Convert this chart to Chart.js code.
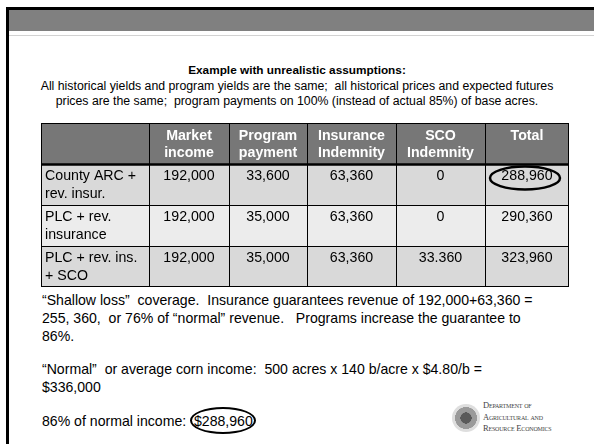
<!DOCTYPE html>
<html>
<head>
<meta charset="utf-8">
<title>Example with unrealistic assumptions</title>
<script src="https://cdn.jsdelivr.net/npm/chart.js@4.4.1/dist/chart.umd.min.js"></script>
<style>
    body { margin: 0; background: #fff; font-family: "Liberation Sans", Arial, sans-serif; color: #000; }
    #slide { position: relative; width: 594px; height: 444px; overflow: hidden; background: #fff; }
    .frameL { position: absolute; left: 6px; top: 7px; width: 3px; height: 437px; background: #000; }
    .frameT { position: absolute; left: 6px; top: 7px; width: 588px; height: 3px; background: #000; }
    .band { position: absolute; left: 9px; top: 10px; width: 585px; height: 21px; background: #808080; }
    .rule { position: absolute; left: 9px; top: 35px; width: 585px; height: 1px; background: #d2d2d2; }
    .intro { position: absolute; left: 0; top: 63px; width: 594px; text-align: center; font-size: 12.3px; line-height: 15.5px; }
    .intro div { white-space: pre; }
    .intro b { font-weight: bold; font-size: 11.8px; }
    #tabla { position: absolute; left: 41px; top: 123px; }
    .para { position: absolute; left: 42px; font-size: 14.1px; line-height: 18px; white-space: pre; }
    .circled { display: inline-block; border: 2px solid #000; border-radius: 50%; padding: 3px 1px 2px 2px; margin: -5px -3px -4px -4px; }
    .seal { position: absolute; left: 452px; top: 404px; width: 28px; height: 28px; border-radius: 50%;
            background: radial-gradient(circle, #5a5a5a 0 28%, #9a9a9a 29% 55%, #dedede 56% 100%); }
    .dept { position: absolute; left: 483px; top: 400px; font-family: "Liberation Serif", serif; font-size: 8.5px;
            line-height: 11.5px; font-variant: small-caps; color: #444; letter-spacing: -0.2px; }
</style>
</head>
<body>
<div id="slide">
    <div class="frameT"></div>
    <div class="frameL"></div>
    <div class="band"></div>
    <div class="rule"></div>

    <div class="intro">
        <div><b>Example with unrealistic assumptions:</b></div>
        <div>All historical yields and program yields are the same;  all historical prices and expected futures</div>
        <div>prices are the same;  program payments on 100% (instead of actual 85%) of base acres.</div>
    </div>

    <canvas id="tabla" width="528" height="164"></canvas>

    <div class="para" style="top:291px">“Shallow loss”  coverage.  Insurance guarantees revenue of 192,000+63,360 =
255, 360,  or 76% of “normal” revenue.   Programs increase the guarantee to
86%.</div>
    <div class="para" style="top:360px">“Normal”  or average corn income:  500 acres x 140 b/acre x $4.80/b =
$336,000</div>
    <div class="para" style="top:412px">86% of normal income:  <span class="circled">$288,960</span></div>

    <div class="seal"></div>
    <div class="dept">Department of<br>Agricultural and<br>Resource Economics</div>
</div>

<script>
// filas y columnas de la tabla
var rowLabels = ['County ARC +\nrev. insur.', 'PLC + rev.\ninsurance', 'PLC + rev. ins.\n+ SCO'];
var columnHeaders = ['Market\nincome', 'Program\npayment', 'Insurance\nIndemnity', 'SCO\nIndemnity', 'Total'];

var marketIncome = [192000, 192000, 192000];
var programPayment = [33600, 35000, 35000];
var insuranceIndemnity = [63360, 63360, 63360];
var scoIndemnity = [0, 0, 33.360];
var totalIncome = [288960, 290360, 323960];

// celda marcada con el circulo (fila 0, columna Total)
var circledRow = 0;

// anchos de columna en pixeles (etiqueta + 5 columnas)
var colWidths = [108, 80, 78, 89, 89, 84];

var columns = [marketIncome, programPayment, insuranceIndemnity, scoIndemnity, totalIncome];

var formato = (v) => Number.isInteger(v) ? v.toLocaleString('en-US') : v.toFixed(3);

var fuente = '"Liberation Sans", Arial, sans-serif';

var tablaPlugin = {
    id: 'tabla',
    afterDraw: (chart) => {
        var ctx = chart.ctx;
        var xs = chart.scales.x;
        var ys = chart.scales.y;
        var band = ys.getPixelForValue(1) - ys.getPixelForValue(0);

        var edges = [0];
        colWidths.forEach((w) => edges.push(edges[edges.length - 1] + w));
        var xe = edges.map((v) => Math.round(xs.getPixelForValue(v)));

        var rowTop = (r) => Math.round(ys.getPixelForValue(r) - band / 2);
        var nRows = rowLabels.length + 1;

        ctx.save();

        // fondos
        for (var r = 0; r < nRows; r++) {
            ctx.fillStyle = r == 0 ? '#777777' : (r % 2 == 1 ? '#d9d9d9' : '#ececec');
            ctx.fillRect(xe[0], rowTop(r), xe[xe.length - 1] - xe[0], Math.round(band) + 1);
        }

        // encabezados
        ctx.fillStyle = '#ffffff';
        ctx.font = 'bold 14.2px ' + fuente;
        ctx.textAlign = 'center';
        ctx.textBaseline = 'middle';
        columnHeaders.forEach((h, c) => {
            var cx = (xe[c + 1] + xe[c + 2]) / 2;
            h.split('\n').forEach((line, i) => {
                ctx.fillText(line, cx, rowTop(0) + 13 + i * 17);
            });
        });

        // cuerpo
        ctx.fillStyle = '#000000';
        ctx.font = '14.2px ' + fuente;
        rowLabels.forEach((lab, k) => {
            var top = rowTop(k + 1);
            ctx.textAlign = 'left';
            lab.split('\n').forEach((line, i) => {
                ctx.fillText(line, xe[0] + 4, top + 12 + i * 18);
            });
            ctx.textAlign = 'center';
            columns.forEach((serie, c) => {
                var cx = (xe[c + 1] + xe[c + 2]) / 2;
                ctx.fillText(formato(serie[k]), cx, top + 12);
            });
        });

        // lineas
        ctx.strokeStyle = '#000000';
        ctx.lineWidth = 1;
        var top0 = rowTop(0);
        var bottom = rowTop(nRows - 1) + Math.round(band);
        xe.forEach((x, i) => {
            var px = i == xe.length - 1 ? x - 0.5 : x + 0.5;
            ctx.beginPath();
            ctx.moveTo(px, top0);
            ctx.lineTo(px, bottom);
            ctx.stroke();
        });
        for (var r = 0; r <= nRows; r++) {
            var y = r == nRows ? bottom - 0.5 : rowTop(r) + 0.5;
            ctx.lineWidth = r == 1 ? 2.5 : 1;
            ctx.beginPath();
            ctx.moveTo(xe[0], y);
            ctx.lineTo(xe[xe.length - 1], y);
            ctx.stroke();
        }

        // circulo sobre el total
        var tc = columns.length;
        var ex = (xe[tc] + xe[tc + 1]) / 2 - 2;
        var ey = rowTop(circledRow + 1) + 14;
        ctx.lineWidth = 2.5;
        ctx.beginPath();
        ctx.ellipse(ex, ey, 35, 11.5, 0, 0, Math.PI * 2);
        ctx.stroke();

        ctx.restore();
    }
};

var contenedor = document.getElementById('tabla');

var grafica = new Chart(contenedor, {
    type: 'bar',
    data: {
        labels: ['encabezado'].concat(rowLabels),
        datasets: []
    },
    options: {
        responsive: false,
        animation: false,
        devicePixelRatio: 1,
        events: [],
        layout: { padding: 0 },
        plugins: {
            legend: { display: false },
            tooltip: { enabled: false }
        },
        scales: {
            x: { type: 'linear', min: 0, max: colWidths.reduce((a, b) => a + b, 0), offset: false, display: false },
            y: { type: 'category', labels: ['encabezado'].concat(rowLabels), offset: true, display: false }
        }
    },
    plugins: [tablaPlugin]
});
</script>
</body>
</html>
